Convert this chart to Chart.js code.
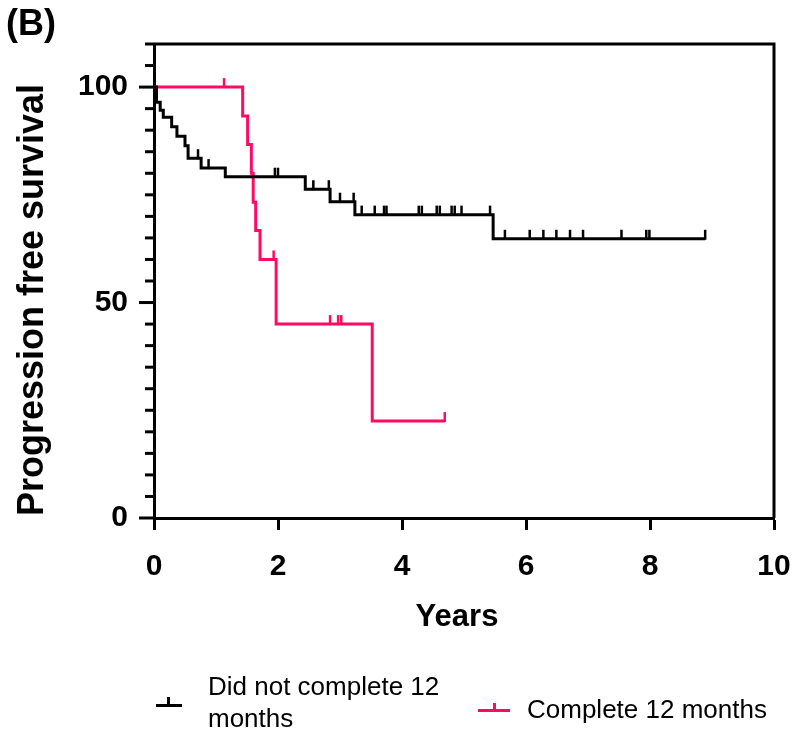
<!DOCTYPE html>
<html><head><meta charset="utf-8">
<script src="https://cdn.jsdelivr.net/npm/chart.js@4.4.1/dist/chart.umd.min.js"></script>
<style>
html,body{margin:0;padding:0;background:#fff;overflow:hidden}
#wrap{position:relative;width:797px;height:743px}
canvas{display:block}
.lt{position:absolute;font-family:'Liberation Sans',Arial,sans-serif;font-size:26px;line-height:32px;color:#000;white-space:nowrap}
.mk{position:absolute}
</style></head>
<body><div id="wrap"><canvas id="c" width="797" height="743"></canvas>
<div class="mk" style="left:156px;top:704px;width:26px;height:3px;background:#000"></div>
<div class="mk" style="left:167px;top:697px;width:3px;height:8px;background:#000"></div>
<div class="lt" style="left:208px;top:670px">Did not complete 12<br>months</div>
<div class="mk" style="left:478px;top:709px;width:32px;height:3px;background:#ff0a64"></div>
<div class="mk" style="left:493px;top:703px;width:3px;height:7px;background:#ff0a64"></div>
<div class="lt" style="left:527px;top:693px">Complete 12 months</div>
</div>
<script>
const FONT = "'Liberation Sans', Arial, sans-serif";
const BLACK = '#000000';
const PINK = '#ff0a64';

// "Did not complete 12 months" – KM steps (years, % surviving)
const notCompleteTimes = [0, 0.04, 0.1, 0.15, 0.285, 0.37, 0.5, 0.55, 0.76, 1.15, 2.44, 2.84, 3.24, 5.47, 8.89];
const notCompleteSurv  = [100, 96.5, 94.6, 93, 90.8, 88.6, 86.4, 83.5, 81.2, 79.2, 76.3, 73.4, 70.4, 64.8, 64.8];
const notCompleteCensored = [0.71, 0.88, 1.95, 2.0, 2.57, 2.82, 3.0, 3.22, 3.35, 3.56, 3.71, 3.75, 4.27, 4.32, 4.56, 4.61, 4.8, 4.85, 4.96, 5.42, 5.66, 6.06, 6.28, 6.49, 6.71, 6.92, 7.54, 7.94, 7.99, 8.89];

// "Complete 12 months"
const completeTimes = [0, 1.43, 1.51, 1.57, 1.6, 1.64, 1.71, 1.97, 3.52, 4.69];
const completeSurv  = [100, 93.3, 86.7, 80, 73.3, 66.7, 60, 45, 22.5, 22.5];
const completeCensored = [1.13, 1.93, 2.84, 2.97, 3.02, 4.69];

const xTickValues = [0, 2, 4, 6, 8, 10];
const yTickValues = [0, 5, 10, 15, 20, 25, 30, 35, 40, 45, 50, 55, 60, 65, 70, 75, 80, 85, 90, 95, 100, 105, 110];
const yLabelValues = [0, 50, 100];

function toPoints(ts, ss) { return ts.map((t, i) => ({x: t, y: ss[i]})); }
function survAt(ts, ss, t) {
  let v = ss[0];
  for (let i = 0; i < ts.length; i++) { if (ts[i] <= t) v = ss[i]; }
  return v;
}

const series = [
  {label: 'Did not complete 12 months', times: notCompleteTimes, surv: notCompleteSurv, cens: notCompleteCensored, color: BLACK},
  {label: 'Complete 12 months', times: completeTimes, surv: completeSurv, cens: completeCensored, color: PINK}
];

const decor = {
  id: 'decor',
  afterDatasetsDraw(chart) {
    const ctx = chart.ctx, xs = chart.scales.x, ys = chart.scales.y, a = chart.chartArea;
    ctx.save();
    // censor marks
    series.forEach(s => {
      ctx.strokeStyle = s.color; ctx.lineWidth = 2.5; ctx.lineCap = 'butt';
      s.cens.forEach(t => {
        const px = xs.getPixelForValue(t);
        const py = ys.getPixelForValue(survAt(s.times, s.surv, t));
        ctx.beginPath(); ctx.moveTo(px, py + 1); ctx.lineTo(px, py - 9); ctx.stroke();
      });
    });
    // frame top & right
    ctx.strokeStyle = '#000'; ctx.lineWidth = 3;
    ctx.beginPath(); ctx.moveTo(a.left, a.top); ctx.lineTo(a.right, a.top); ctx.lineTo(a.right, a.bottom); ctx.stroke();
    // y ticks (major longer)
    ys.ticks.forEach(tk => {
      const py = ys.getPixelForValue(tk.value);
      const len = yLabelValues.includes(tk.value) ? 15 : 9;
      ctx.beginPath(); ctx.moveTo(a.left - len, py); ctx.lineTo(a.left, py); ctx.stroke();
    });
    // titles
    ctx.fillStyle = '#000';
    ctx.font = 'bold 36px ' + FONT;
    ctx.textAlign = 'center'; ctx.textBaseline = 'middle';
    ctx.save(); ctx.translate(33, 300); ctx.rotate(-Math.PI / 2);
    ctx.fillText('Progression free survival', 0, 0); ctx.restore();
    ctx.font = 'bold 31px ' + FONT;
    ctx.fillText('Years', 457, 617);
    ctx.font = 'bold 36px ' + FONT;
    ctx.textAlign = 'left';
    ctx.fillText('(B)', 6, 25);
    ctx.restore();
  }
};

new Chart(document.getElementById('c'), {
  type: 'line',
  data: {
    datasets: series.map(s => ({
      label: s.label,
      data: toPoints(s.times, s.surv),
      borderColor: s.color,
      backgroundColor: s.color,
      borderWidth: 3,
      stepped: 'before',
      pointRadius: 0,
      fill: false,
      borderJoinStyle: 'miter',
      borderCapStyle: 'butt'
    }))
  },
  options: {
    responsive: false,
    animation: false,
    devicePixelRatio: 1,
    layout: {padding: {left: 0, right: 23, top: 44, bottom: 115}},
    plugins: {legend: {display: false}, tooltip: {enabled: false}},
    scales: {
      x: {
        type: 'linear', min: 0, max: 10,
        afterBuildTicks(scale) { scale.ticks = xTickValues.map(v => ({value: v})); },
        afterFit(scale) { scale.height = 110; scale.paddingLeft = 0; scale.paddingRight = 0; },
        grid: {drawOnChartArea: false, tickLength: 12, tickWidth: 3, tickColor: '#000'},
        border: {color: '#000', width: 3},
        ticks: {color: '#000', font: {family: FONT, size: 30, weight: 'bold'}, padding: 19, maxRotation: 0}
      },
      y: {
        min: 0, max: 110,
        afterBuildTicks(scale) { scale.ticks = yTickValues.map(v => ({value: v})); },
        ticks: {
          autoSkip: false, color: '#000', padding: 26,
          font: {family: FONT, size: 30, weight: 'bold'},
          callback: v => yLabelValues.includes(v) ? String(v) : ''
        },
        afterFit(scale) { scale.width = 154; scale.paddingTop = 0; scale.paddingBottom = 0; },
        grid: {drawOnChartArea: false, drawTicks: false},
        border: {color: '#000', width: 3}
      }
    }
  },
  plugins: [decor]
});
</script>
</body></html>
